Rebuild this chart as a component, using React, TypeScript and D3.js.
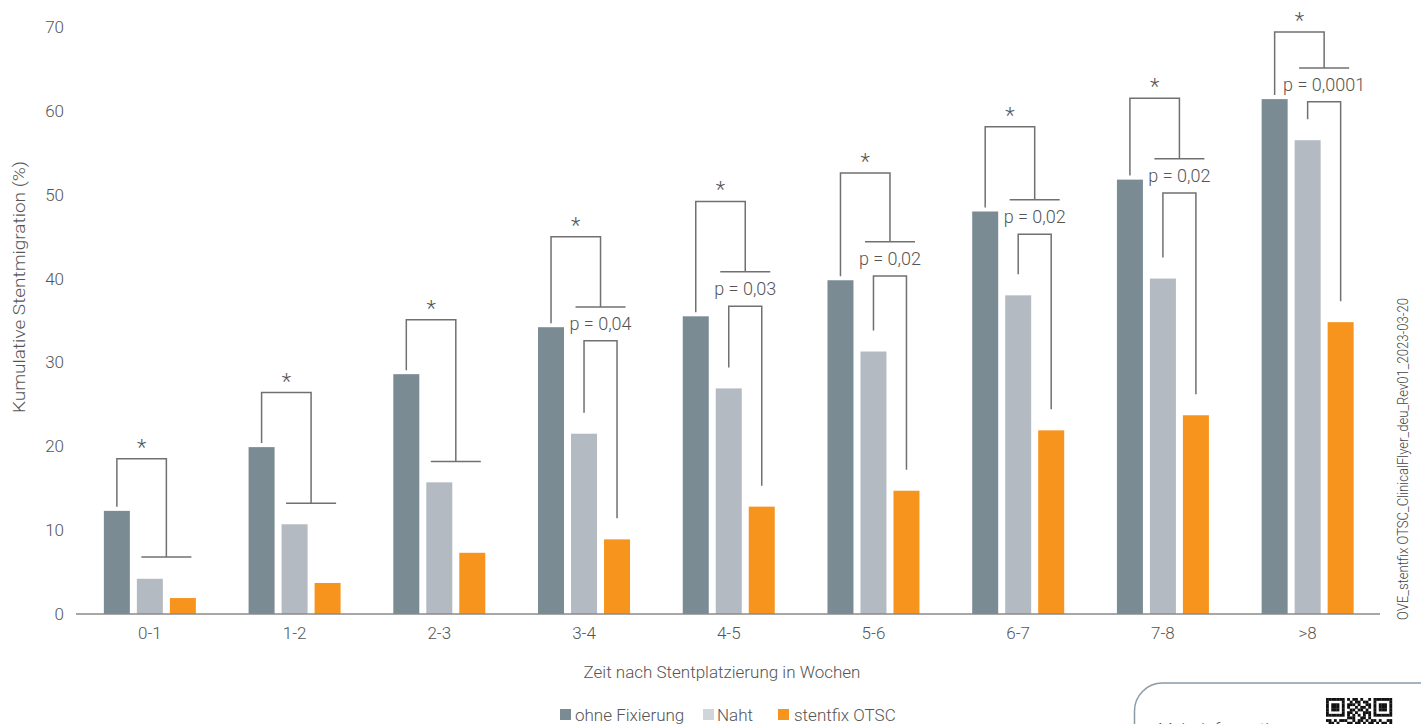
import React from "react";
import * as d3 from "d3";

const categories = ["0-1", "1-2", "2-3", "3-4", "4-5", "5-6", "6-7", "7-8", ">8"];
const seriesNames = ["ohne Fixierung", "Naht", "stentfix OTSC"];
const ohneFixierung = [12.3, 19.9, 28.6, 34.2, 35.5, 39.8, 48.0, 51.8, 61.4];
const naht = [4.2, 10.7, 15.7, 21.5, 26.9, 31.3, 38.0, 40.0, 56.5];
const stentfix = [1.9, 3.7, 7.3, 8.9, 12.8, 14.7, 21.9, 23.7, 34.8];
// significance bracket levels (in %)
const starBracketTop = [18.5, 26.4, 35.1, 45.0, 49.2, 52.6, 58.1, 61.5, 69.4];
const starBracketT = [6.8, 13.2, 18.2, 36.6, 40.8, 44.4, 49.4, 54.3, 65.1];
const pBracketTop: (number | null)[] = [null, null, null, 32.6, 36.7, 40.3, 45.3, 50.2, 61.1];
const pLabels = ["", "", "", "p = 0,04", "p = 0,03", "p = 0,02", "p = 0,02", "p = 0,02", "p = 0,0001"];
const yTicks = [0, 10, 20, 30, 40, 50, 60, 70];
const qrRows = [
  "1111111010110100101111111",
  "1000001001011011001000001",
  "1011101011101001101011101",
  "1011101010010110101011101",
  "1011101001101101001011101",
  "1000001011010011101000001",
  "1111111010101010101111111",
  "0000000011100110100000000",
  "1101011100101101011010011",
  "0110100011011010110101101",
];

const W = 1421;
const H = 724;
const COLORS = ["#7a8b94", "#b3bac1", "#f7941d"];
const LEGEND_COLORS = ["#7a8b94", "#d0d5d9", "#f7941d"];
const TEXT = "#555555";
const LINE = "#707070";
const FONT = "Roboto, 'Open Sans', sans-serif";

export default function App() {
  const y = d3.scaleLinear().domain([0, 70]).range([614, 27]);
  const x0 = d3.scaleBand<string>().domain(categories).range([77.5, 1380]).padding(0);
  const groupW = 92;
  const x1 = d3.scaleBand<number>().domain([0, 1, 2]).range([0, groupW]).paddingInner(7 / 33).paddingOuter(0);
  const values = [ohneFixierung, naht, stentfix];
  const bx = (ci: number, si: number) =>
    (x0(categories[ci]) as number) + (x0.bandwidth() - groupW) / 2 + (x1(si) as number);
  const bc = (ci: number, si: number) => bx(ci, si) + x1.bandwidth() / 2;

  const legendItems = [
    { sx: 560, tx: 575 },
    { sx: 703, tx: 717 },
    { sx: 778, tx: 794 },
  ];

  const qrX = 1326;
  const qrY = 698;
  const mod = 66 / 25;

  return (
    <svg
      width={W}
      height={H}
      style={{ position: "absolute", left: 0, top: 0, background: "#fff" }}
      fontFamily={FONT}
      fontWeight={300}
    >
      {/* y ticks */}
      {yTicks.map((t) => (
        <text key={t} x={64} y={y(t)} dy="0.35em" textAnchor="end" fontSize={17} fill={TEXT}>
          {t}
        </text>
      ))}
      <text
        transform={`translate(25,287) rotate(-90)`}
        textAnchor="middle"
        fontSize={17}
        fill={TEXT}
        textLength={252}
        lengthAdjust="spacingAndGlyphs"
      >
        Kumulative Stentmigration (%)
      </text>

      {/* bars */}
      {categories.map((c, ci) =>
        values.map((vals, si) => (
          <rect
            key={c + si}
            x={bx(ci, si)}
            y={y(vals[ci])}
            width={x1.bandwidth()}
            height={y(0) - y(vals[ci])}
            fill={COLORS[si]}
          />
        ))
      )}

      {/* axis line */}
      <line x1={76} x2={1380} y1={y(0)} y2={y(0)} stroke="#8a8a8a" strokeWidth={1.5} />
      {categories.map((c) => (
        <text
          key={c}
          x={(x0(c) as number) + x0.bandwidth() / 2}
          y={639}
          textAnchor="middle"
          fontSize={17}
          fill={TEXT}
        >
          {c}
        </text>
      ))}

      {/* brackets */}
      {categories.map((c, ci) => {
        const lx = bc(ci, 0);
        const rx = (bc(ci, 1) + bc(ci, 2)) / 2;
        const top = y(starBracketTop[ci]);
        const ty = y(starBracketT[ci]);
        const pt = pBracketTop[ci];
        return (
          <g key={"b" + c}>
            <path
              d={`M${lx},${y(ohneFixierung[ci]) - 4}V${top}H${rx}V${ty}`}
              fill="none"
              stroke={LINE}
              strokeWidth={1.5}
            />
            <line x1={rx - 25} x2={rx + 25} y1={ty} y2={ty} stroke={LINE} strokeWidth={1.5} />
            <text x={(lx + rx) / 2} y={top - 4} textAnchor="middle" fontSize={22} fill={TEXT}>
              *
            </text>
            {pt !== null && (
              <g>
                <path
                  d={`M${bc(ci, 1)},${y(naht[ci]) - 21}V${y(pt)}H${bc(ci, 2)}V${y(stentfix[ci]) - 21}`}
                  fill="none"
                  stroke={LINE}
                  strokeWidth={1.5}
                />
                <text x={rx} y={ty + 23} textAnchor="middle" fontSize={18} fill={TEXT}>
                  {pLabels[ci]}
                </text>
              </g>
            )}
          </g>
        );
      })}

      {/* x title */}
      <text x={722} y={678} textAnchor="middle" fontSize={17} fill={TEXT}>
        Zeit nach Stentplatzierung in Wochen
      </text>

      {/* legend */}
      {seriesNames.map((s, i) => (
        <g key={s}>
          <rect x={legendItems[i].sx} y={709} width={11} height={11} fill={LEGEND_COLORS[i]} />
          <text x={legendItems[i].tx} y={721} fontSize={17} fill={TEXT}>
            {s}
          </text>
        </g>
      ))}

      {/* side code */}
      <text
        transform={`translate(1408,459) rotate(-90)`}
        textAnchor="middle"
        fontSize={14}
        fill="#444"
        textLength={322}
        lengthAdjust="spacingAndGlyphs"
      >
        OVE_stentfix OTSC_ClinicalFlyer_deu_Rev01_2023-03-20
      </text>

      {/* info box */}
      <path
        d={`M1134.5,${H + 2}V711a28,28 0 0 1 28,-28H${W + 2}`}
        fill="none"
        stroke="#8b9ba6"
        strokeWidth={1.5}
      />
      <text x={1158} y={735} fontSize={17} fill={TEXT}>
        Mehr Informationen
      </text>
      {qrRows.map((row, r) =>
        row.split("").map((b, cI) =>
          b === "1" ? (
            <rect
              key={r + "-" + cI}
              x={qrX + cI * mod}
              y={qrY + r * mod}
              width={mod + 0.2}
              height={mod + 0.2}
              fill="#111"
            />
          ) : null
        )
      )}
    </svg>
  );
}
